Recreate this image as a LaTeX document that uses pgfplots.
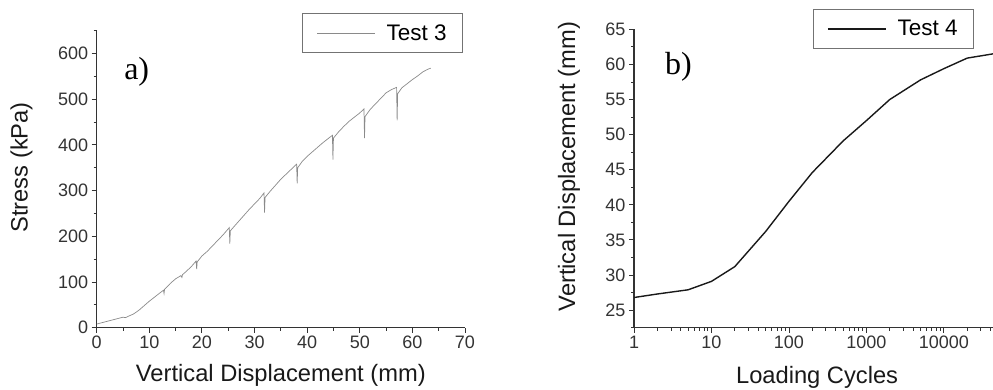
\documentclass[border=0pt]{standalone}
\usepackage{pgfplots}
\pgfplotsset{compat=1.18}
\usepackage{fontspec}
\setmainfont{Liberation Sans}
\newfontfamily\seriffont{Liberation Serif}
\definecolor{axgray}{HTML}{333333}
\definecolor{curvegray}{HTML}{8A8A8A}
\pgfplotsset{
  common/.style={
    scale only axis,
    anchor=south west,
    axis lines=left,
    axis line style={-, line width=1.1pt, color=axgray},
    tick align=outside,
    major tick length=5pt,
    minor tick length=3pt,
    every tick/.style={line width=0.9pt, color=axgray},
    tick label style={font=\fontsize{18}{20}\selectfont, color=axgray},
    /pgf/number format/assume math mode=true,
    label style={font=\fontsize{23.7}{26}\selectfont, color=black!90},
    legend style={draw=black!55, line width=0.8pt, font=\fontsize{22.5}{25}\selectfont,
      inner xsep=14pt, inner ysep=9pt, nodes={inner sep=2pt}},
    legend image code/.code={\draw[#1] (0pt,0pt) -- (58pt,0pt);},
  }
}
\begin{document}
\begin{tikzpicture}
\useasboundingbox (0,0) rectangle (993pt,389pt);
\begin{axis}[common,
  at={(96.7pt,61.3pt)}, width=368.3pt, height=297pt,
  xmin=0, xmax=70, ymin=0, ymax=650,
  xtick={0,10,...,70}, minor xtick={5,15,...,65},
  ytick={0,100,...,600}, minor ytick={50,150,...,650},
  xlabel={Vertical Displacement (mm)}, ylabel={Stress (kPa)},
  xlabel style={at={(axis description cs:0.5,-0.16)}, anchor=center},
  ylabel style={at={(axis description cs:-0.204,0.54)}, anchor=center, rotate=0},
  legend style={at={(axis description cs:0.9946,1.0596)}, anchor=north east},
]
\addplot[color=curvegray, line width=0.7pt] coordinates {
(0,8) (1,11) (2,14) (3,17) (4,20) (5,23) (5.5,22) (6,25) (7,30) (8,38) (9,48) (10,58)
(11,67) (12,76) (12.7,82) (12.8,75) (12.9,84) (14,97) (15,107) (16,114) (16.2,110) (16.3,116)
(17,123) (18,134) (18.9,146) (19.0,128) (19.1,144) (20,157) (21,167) (22,179) (23,191) (24,203)
(25.2,219) (25.3,184) (25.4,212) (26,220) (27,233) (28,246) (29,259) (30,271) (31,283)
(31.8,295) (31.9,252) (32.0,285) (33,299) (34,312) (35,325) (36,336) (37,347) (38.0,358)
(38.1,316) (38.2,350) (39,363) (40,375) (41,385) (42,395) (43,405) (44,414) (44.8,421)
(44.9,368) (45.0,415) (46,429) (47,441) (48,452) (49,461) (50,470) (50.8,479) (50.9,415)
(51.0,462) (52,478) (53,490) (54,502) (55,514) (56,521) (57.0,526) (57.1,454) (57.2,512)
(58,525) (59,534) (60,543) (61,551) (62,560) (63,566) (63.5,568)
};
\addlegendentry{\hspace{9pt}Test 3}
\node[font=\seriffont\fontsize{32}{34}\selectfont] at (axis cs:7.6,560) {a)};
\end{axis}
\begin{axis}[common,
  at={(634pt,61.3pt)}, width=359pt, height=298.4pt,
  xmode=log, xmin=1, xmax=43000, ymin=22.5, ymax=65,
  xtick={1,10,100,1000,10000}, xticklabels={1,10,100,1000,10000},
  minor xtick={2,3,4,5,6,7,8,9,20,30,40,50,60,70,80,90,200,300,400,500,600,700,800,900,2000,3000,4000,5000,6000,7000,8000,9000,20000,30000,40000},
  ytick={25,30,...,65}, minor ytick={22.5,27.5,...,62.5},
  xlabel={Loading Cycles}, ylabel={Vertical Displacement (mm)},
  xlabel style={at={(axis description cs:0.51,-0.165)}, anchor=center},
  ylabel style={at={(axis description cs:-0.181,0.54)}, anchor=center},
  legend style={at={(axis description cs:0.947,1.068)}, anchor=north east},
]
\addplot[color=black!90, line width=1.4pt] coordinates {
(1,26.8) (2,27.3) (5,27.9) (10,29.1) (20,31.2) (50,36.2) (100,40.5) (200,44.6)
(500,49.1) (1000,52.0) (2000,55.0) (5000,57.8) (10000,59.4) (20000,60.9) (43000,61.5)
};
\addlegendentry{\hspace{9pt}Test 4}
\node[font=\seriffont\fontsize{32}{34}\selectfont] at (axis cs:3.75,59.6) {b)};
\end{axis}
\end{tikzpicture}
\end{document}
